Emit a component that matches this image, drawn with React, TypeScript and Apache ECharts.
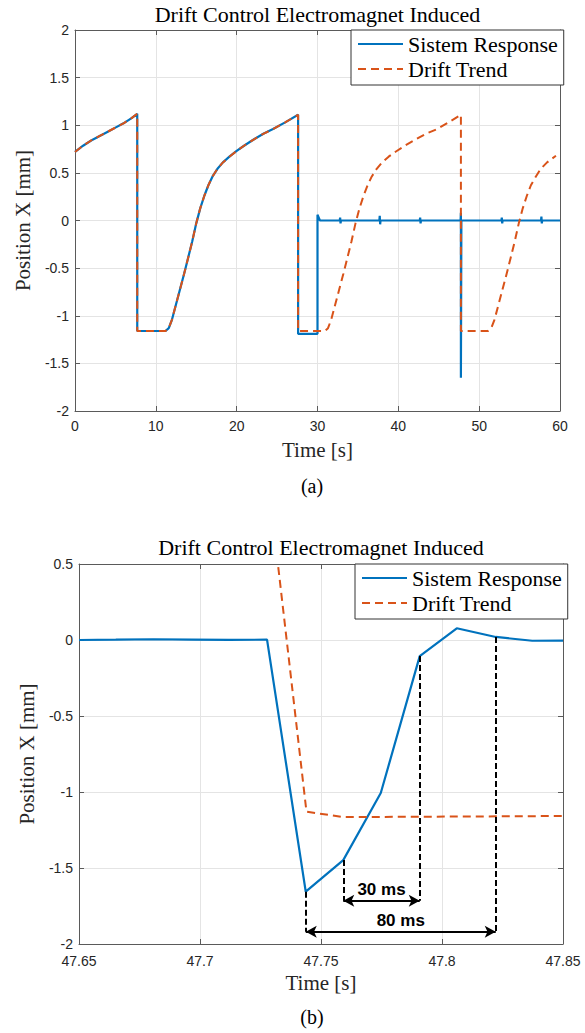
import React, { useEffect, useRef } from "react";
import * as echarts from "echarts";

// ---- Data: (a) full record, 0–60 s ----
const respTimeA = [0, 1, 2, 3, 4, 5, 6, 7, 7.7, 7.7, 11.2, 11.6, 12.0, 12.5, 13.0, 13.5, 14.0, 14.5, 15.0, 15.5, 16.0, 16.5, 17.0, 17.6, 18.3, 19.1, 20.0, 21.0, 22.1, 23.3, 24.5, 26.0, 27.6, 27.6, 30.0, 30.0, 30.3, 32.75, 32.8, 32.85, 32.9, 37.65, 37.7, 37.75, 37.8, 42.65, 42.7, 42.75, 42.8, 47.7, 47.74, 47.74, 47.8, 52.75, 52.8, 52.85, 52.9, 57.65, 57.7, 57.75, 57.8, 60];
const respValA = [0.72, 0.785, 0.84, 0.885, 0.93, 0.975, 1.02, 1.075, 1.12, -1.16, -1.16, -1.13, -1.04, -0.88, -0.72, -0.56, -0.39, -0.22, -0.03, 0.13, 0.26, 0.37, 0.46, 0.54, 0.61, 0.67, 0.73, 0.79, 0.85, 0.91, 0.96, 1.03, 1.11, -1.19, -1.19, 0.06, 0.0, 0, 0.03, -0.03, 0, 0, 0.05, -0.04, 0, 0, 0.03, -0.03, 0, 0, 0.08, -1.65, 0, 0, 0.03, -0.03, 0, 0, 0.04, -0.03, 0, 0];
const driftTimeA = [0, 1, 2, 3, 4, 5, 6, 7, 7.7, 7.7, 11.2, 11.6, 12.0, 12.5, 13.0, 13.5, 14.0, 14.5, 15.0, 15.5, 16.0, 16.5, 17.0, 17.6, 18.3, 19.1, 20.0, 21.0, 22.1, 23.3, 24.5, 26.0, 27.6, 27.6, 30.9, 31.3, 31.7, 32.2, 32.7, 33.2, 33.7, 34.2, 34.7, 35.2, 35.7, 36.2, 36.7, 37.3, 38.0, 38.8, 39.8, 40.9, 42.1, 43.4, 44.8, 46.2, 47.74, 47.74, 51.1, 51.5, 51.9, 52.4, 52.9, 53.4, 53.9, 54.4, 54.9, 55.4, 55.9, 56.4, 57.0, 57.6, 58.4, 59.5];
const driftValA = [0.72, 0.785, 0.84, 0.885, 0.93, 0.975, 1.02, 1.075, 1.12, -1.16, -1.16, -1.13, -1.04, -0.88, -0.72, -0.56, -0.39, -0.22, -0.03, 0.13, 0.26, 0.37, 0.46, 0.54, 0.61, 0.67, 0.73, 0.79, 0.85, 0.91, 0.96, 1.03, 1.11, -1.16, -1.16, -1.13, -1.04, -0.88, -0.72, -0.56, -0.39, -0.22, -0.03, 0.13, 0.26, 0.37, 0.46, 0.54, 0.61, 0.67, 0.73, 0.79, 0.85, 0.91, 0.96, 1.03, 1.11, -1.16, -1.16, -1.13, -1.04, -0.88, -0.72, -0.56, -0.39, -0.22, -0.03, 0.13, 0.26, 0.37, 0.46, 0.54, 0.61, 0.68];

// ---- Data: (b) zoom around the disturbance ----
const respTimeB = [47.65, 47.6652, 47.6808, 47.6964, 47.712, 47.7277, 47.7437, 47.7592, 47.7747, 47.7908, 47.8061, 47.8222, 47.8373, 47.85];
const respValB = [0, 0.002, 0.005, 0.003, 0.001, 0.002, -1.656, -1.448, -1.007, -0.106, 0.077, 0.02, -0.005, -0.004];
const driftTimeB = [47.65, 47.7277, 47.744, 47.7592, 47.85];
const driftValB = [1.1, 1.12, -1.13, -1.165, -1.158];

// ---- Annotations (b) ----
const spanStart = [47.7592, 47.7437];
const spanEnd = [47.7908, 47.8222];
const spanLevel = [-1.715, -1.919];
const spanLabels = ["30 ms", "80 ms"];

// ---- Axis ticks [min, max, interval] ----
const xTicksA = [0, 60, 10];
const yTicksA = [-2, 2, 0.5];
const xTicksB = [47.65, 47.85, 0.05];
const yTicksB = [-2, 0.5, 0.5];

const seriesNames = ["Sistem Response", "Drift Trend"];
const titleText = "Drift Control Electromagnet Induced";
const xName = "Time [s]";
const yName = "Position X [mm]";

const BLUE = "#0072BD";
const ORANGE = "#D95319";
const AXIS = "#5a5a5a";
const GRIDC = "#e4e4e4";
const SERIF = "Liberation Serif";
const SANS = "Liberation Sans";

const zip = (a: number[], b: number[]) => a.map((v, i) => [v, b[i]]);

export default function App() {
  const ref = useRef<HTMLDivElement>(null);
  useEffect(() => {
    document.body.style.margin = "0";
    const chart = echarts.init(ref.current!, null, { renderer: "svg" });

    const grids = [
      { left: 75, top: 30, width: 485, height: 381 },
      { left: 79, top: 564, width: 484, height: 380 },
    ];
    const fmt = (v: number) => String(parseFloat(v.toFixed(2)));

    const xMain = (gi: number, t: number[], margin: number) => ({
      type: "value", gridIndex: gi, position: "bottom",
      min: t[0], max: t[1], interval: t[2],
      name: xName, nameLocation: "middle", nameGap: 28,
      nameTextStyle: { fontFamily: SERIF, fontSize: 21, color: "#262626" },
      axisLine: { show: true, onZero: false, lineStyle: { color: AXIS, width: 1 } },
      axisTick: { show: true, inside: true, length: 5, lineStyle: { color: AXIS } },
      axisLabel: { fontFamily: SANS, fontSize: 14, color: "#262626", margin, formatter: fmt },
      splitLine: { show: true, lineStyle: { color: GRIDC, width: 1 } },
    });
    const xMirror = (gi: number, t: number[]) => ({
      type: "value", gridIndex: gi, position: "top",
      min: t[0], max: t[1], interval: t[2],
      axisLine: { show: true, onZero: false, lineStyle: { color: AXIS, width: 1 } },
      axisTick: { show: true, inside: true, length: 5, lineStyle: { color: AXIS } },
      axisLabel: { show: false }, splitLine: { show: false },
    });
    const yMain = (gi: number, t: number[]) => ({
      type: "value", gridIndex: gi, position: "left",
      min: t[0], max: t[1], interval: t[2],
      name: yName, nameLocation: "middle", nameGap: 39,
      nameTextStyle: { fontFamily: SERIF, fontSize: 21, color: "#262626" },
      axisLine: { show: true, onZero: false, lineStyle: { color: AXIS, width: 1 } },
      axisTick: { show: true, inside: true, length: 5, lineStyle: { color: AXIS } },
      axisLabel: { fontFamily: SANS, fontSize: 14, color: "#262626", margin: 6, formatter: fmt },
      splitLine: { show: true, lineStyle: { color: GRIDC, width: 1 } },
    });
    const yMirror = (gi: number, t: number[]) => ({
      type: "value", gridIndex: gi, position: "right",
      min: t[0], max: t[1], interval: t[2],
      axisLine: { show: true, onZero: false, lineStyle: { color: AXIS, width: 1 } },
      axisTick: { show: true, inside: true, length: 5, lineStyle: { color: AXIS } },
      axisLabel: { show: false }, splitLine: { show: false },
    });

    const legend = (left: number, top: number) => ({
      left, top, orient: "vertical",
      data: seriesNames,
      itemWidth: 45, itemHeight: 14, itemGap: 3,
      padding: [3, 6, 5, 6],
      borderColor: "#333", borderWidth: 1, borderRadius: 0,
      backgroundColor: "#fff",
      selectedMode: false,
      itemStyle: { opacity: 0 },
      textStyle: { fontFamily: SERIF, fontSize: 22, color: "#000", lineHeight: 22 },
    });

    const respLine = { color: BLUE, width: 2.2 };
    const driftLine = { color: ORANGE, width: 2, type: [8, 5] };

    const respAt = (t: number) => respValB[respTimeB.indexOf(t)];
    const vLines: any[] = [];
    spanStart.forEach((s, i) => {
      [s, spanEnd[i]].forEach((t) => {
        vLines.push([
          { coord: [t, respAt(t)], symbol: "none" },
          { coord: [t, spanLevel[i]], symbol: "none" },
        ]);
      });
    });
    const arrows = spanStart.map((s, i) => [
      {
        coord: [s, spanLevel[i]], symbol: "arrow", symbolSize: [9, 11],
        lineStyle: { color: "#000", width: 2, type: "solid" },
        label: {
          show: true, formatter: spanLabels[i], position: "insideMiddleTop", distance: 3,
          fontFamily: SANS, fontWeight: "bold", fontSize: 17, color: "#000",
        },
      },
      { coord: [spanEnd[i], spanLevel[i]], symbol: "arrow", symbolSize: [9, 11] },
    ]);

    const textEl = (text: string, x: number, y: number, size: number) => ({
      type: "text", x, y,
      style: { text, fontFamily: SERIF, fontSize: size, fill: "#000", textAlign: "center", textVerticalAlign: "middle" },
    });

    const option: any = {
      animation: false,
      backgroundColor: "#fff",
      grid: grids.map((g) => ({ ...g, containLabel: false })),
      xAxis: [xMain(0, xTicksA, 8), xMirror(0, xTicksA), xMain(1, xTicksB, 10), xMirror(1, xTicksB)],
      yAxis: [yMain(0, yTicksA), yMirror(0, yTicksA), yMain(1, yTicksB), yMirror(1, yTicksB)],
      legend: [legend(351, 30), legend(355, 564)],
      series: [
        {
          name: seriesNames[0], type: "line", xAxisIndex: 0, yAxisIndex: 0,
          data: zip(respTimeA, respValA), symbol: "none", lineStyle: respLine, itemStyle: { color: BLUE },
        },
        {
          name: seriesNames[1], type: "line", xAxisIndex: 0, yAxisIndex: 0,
          data: zip(driftTimeA, driftValA), symbol: "none", lineStyle: driftLine, itemStyle: { color: ORANGE },
        },
        {
          name: seriesNames[0], type: "line", xAxisIndex: 2, yAxisIndex: 2,
          data: zip(respTimeB, respValB), symbol: "none", lineStyle: respLine, itemStyle: { color: BLUE },
          markLine: {
            silent: true, animation: false, symbol: ["none", "none"],
            lineStyle: { color: "#000", width: 2, type: [6, 3] },
            label: { show: false },
            emphasis: { disabled: true },
            data: [...vLines, ...arrows],
          },
        },
        {
          name: seriesNames[1], type: "line", xAxisIndex: 2, yAxisIndex: 2,
          data: zip(driftTimeB, driftValB), symbol: "none", lineStyle: driftLine, itemStyle: { color: ORANGE },
        },
      ],
      graphic: [
        textEl(titleText, 317.5, 14, 22),
        textEl(titleText, 321, 547, 22),
        textEl("(a)", 312, 486, 20),
        textEl("(b)", 312, 1017, 20),
      ],
    };
    chart.setOption(option);
    return () => chart.dispose();
  }, []);
  return <div ref={ref} style={{ width: 585, height: 1033 }} />;
}
